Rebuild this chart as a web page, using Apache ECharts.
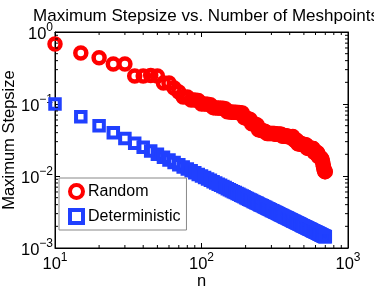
<!DOCTYPE html>
<html>
<head>
<meta charset="utf-8">
<script src="https://cdn.jsdelivr.net/npm/echarts@6/dist/echarts.min.js"></script>
<style>
html,body{margin:0;padding:0;background:#fff;}
#c{width:374px;height:291px;}
</style>
</head>
<body>
<div id="c"></div>
<script>
// Number of meshpoints
const meshpoints = [];
for (let n = 10; n <= 700; n += 5) meshpoints.push(n);

// Random mesh: maximum stepsize
const randomStep = [
  0.68, 0.51, 0.44, 0.36, 0.36,            // 10-30
  0.245, 0.245, 0.248, 0.245,               // 35-50
  0.196, 0.196, 0.167, 0.147, 0.125, 0.125, // 55-80
  0.114, 0.114, 0.112,                      // 85-95
  0.100, 0.100, 0.099, 0.098,               // 100-115
  0.089, 0.088, 0.088, 0.087, 0.087, 0.086, // 120-145
  0.078, 0.078, 0.077, 0.077, 0.077, 0.076, 0.076, 0.075, 0.075, // 150-190
  0.065, 0.064, 0.063, 0.062, 0.061,        // 195-215
  0.053, 0.053, 0.052, 0.052, 0.051,        // 220-240
  0.044, 0.044, 0.043, 0.043, 0.042, 0.042, 0.041, // 245-275
  0.039, 0.039, 0.039, 0.039, 0.039, 0.039, 0.039, 0.039, 0.038, 0.038, 0.038, 0.038, 0.038, 0.038, 0.038, // 280-350
  0.036, 0.036, 0.036, 0.036, 0.036, 0.036, 0.036, 0.035, 0.035, 0.035, 0.035, 0.035, 0.035, // 355-415
  0.0355, 0.032, 0.032, 0.031, 0.031, 0.031, 0.031, // 420-450
  0.028, 0.028, 0.028, 0.028, 0.028, 0.028, 0.0275, 0.0275, 0.0275, 0.027, 0.027, 0.027, 0.027, 0.027, // 455-520
  0.0245, 0.0245, 0.0245, 0.0245, 0.024, 0.024, 0.024, 0.024, 0.024, 0.024, 0.024, 0.024, // 525-580
  0.0215, 0.0215, 0.021, 0.021, 0.021, 0.021, 0.021, 0.021, // 585-620
  0.0188, 0.0188, 0.0185, 0.0185, 0.018, 0.018, 0.0175, 0.0175, // 625-660
  0.0165, 0.016, 0.0145, 0.0135, 0.0125, 0.012, 0.0115, 0.0115 // 665-700
];

// Deterministic (uniform) mesh: maximum stepsize
const deterministicStep = [
  0.1, 0.0667, 0.05, 0.04, 0.0333, 0.0286, 0.025, 0.0222, 0.02, 0.0182,
  0.0167, 0.0154, 0.0143, 0.0133, 0.0125, 0.0118, 0.0111, 0.0105, 0.01, 0.00952,
  0.00909, 0.0087, 0.00833, 0.008, 0.00769, 0.00741, 0.00714, 0.0069, 0.00667, 0.00645,
  0.00625, 0.00606, 0.00588, 0.00571, 0.00556, 0.00541, 0.00526, 0.00513, 0.005, 0.00488,
  0.00476, 0.00465, 0.00455, 0.00444, 0.00435, 0.00426, 0.00417, 0.00408, 0.004, 0.00392,
  0.00385, 0.00377, 0.0037, 0.00364, 0.00357, 0.00351, 0.00345, 0.00339, 0.00333, 0.00328,
  0.00323, 0.00317, 0.00313, 0.00308, 0.00303, 0.00299, 0.00294, 0.0029, 0.00286, 0.00282,
  0.00278, 0.00274, 0.0027, 0.00267, 0.00263, 0.0026, 0.00256, 0.00253, 0.0025, 0.00247,
  0.00244, 0.00241, 0.00238, 0.00235, 0.00233, 0.0023, 0.00227, 0.00225, 0.00222, 0.0022,
  0.00217, 0.00215, 0.00213, 0.00211, 0.00208, 0.00206, 0.00204, 0.00202, 0.002, 0.00198,
  0.00196, 0.00194, 0.00192, 0.0019, 0.00189, 0.00187, 0.00185, 0.00183, 0.00182, 0.0018,
  0.00179, 0.00177, 0.00175, 0.00174, 0.00172, 0.00171, 0.00169, 0.00168, 0.00167, 0.00165,
  0.00164, 0.00163, 0.00161, 0.0016, 0.00159, 0.00157, 0.00156, 0.00155, 0.00154, 0.00152,
  0.00151, 0.0015, 0.00149, 0.00148, 0.00147, 0.00146, 0.00145, 0.00144, 0.00143
];

const xTicks = [10, 100, 1000];
const yTicks = [0.001, 0.01, 0.1, 1];
const seriesNames = ['Random', 'Deterministic'];

const FONT = 'Liberation Sans';
const FS = 16.5;
function expLabel(v) {
  const e = Math.round(Math.log10(v));
  return '{b|10}{s|' + (e < 0 ? '\u2212' + (-e) : e) + '}';
}
const rich = {
  b: {fontSize: FS, fontFamily: FONT, color: '#000', verticalAlign: 'bottom'},
  s: {fontSize: 12, fontFamily: FONT, color: '#000', verticalAlign: 'bottom', padding: [0, 0, 9, 0]}
};

const chart = echarts.init(document.getElementById('c'), null, {renderer: 'canvas'});
const grid = {left: 55, right: 26, top: 32, bottom: 43, show: true, borderColor: '#000', borderWidth: 1,
  backgroundColor: '#fff', containLabel: false, outerBoundsMode: 'none'};

const option = {
  animation: false,
  backgroundColor: '#fff',
  title: {
    text: 'Maximum Stepsize vs. Number of Meshpoints',
    left: 201, top: 3, textAlign: 'center',
    textStyle: {fontSize: 17, fontWeight: 'normal', fontFamily: FONT, color: '#000'}
  },
  grid: grid,
  legend: {
    orient: 'vertical',
    left: 59, top: 178,
    data: [
      {name: seriesNames[0], itemStyle: {color: '#fff', borderColor: '#ff0000', borderWidth: 4}},
      {name: seriesNames[1], itemStyle: {color: '#fff', borderColor: '#2040ff', borderWidth: 4}}
    ],
    backgroundColor: '#fff',
    borderColor: '#888', borderWidth: 1,
    padding: [5, 6, 5, 9],
    itemGap: 8,
    itemWidth: 13, itemHeight: 13,
    textStyle: {fontSize: 16, fontFamily: FONT, color: '#000'}
  },
  xAxis: [{
    type: 'log', logBase: 10, min: 10, max: 1000,
    position: 'bottom',
    name: 'n', nameLocation: 'middle', nameGap: 25, nameMoveOverlap: false,
    nameTextStyle: {fontSize: FS, fontFamily: FONT, color: '#000'},
    axisLine: {show: true, lineStyle: {color: '#000'}},
    axisTick: {show: true, inside: true, length: 5, lineStyle: {color: '#000'}},
    axisLabel: {formatter: expLabel, rich: rich, margin: 4},
    splitLine: {show: false}
  }, {
    type: 'log', logBase: 10, min: 10, max: 1000,
    position: 'top',
    axisLine: {show: true, lineStyle: {color: '#000'}},
    axisTick: {show: true, inside: true, length: 5, lineStyle: {color: '#000'}},
    axisLabel: {show: false},
    splitLine: {show: false}
  }],
  yAxis: [{
    type: 'log', logBase: 10, min: 0.001, max: 1,
    position: 'left',
    name: 'Maximum Stepsize', nameLocation: 'middle', nameGap: 37, nameMoveOverlap: false,
    nameTextStyle: {fontSize: FS, fontFamily: FONT, color: '#000'},
    axisLine: {show: true, lineStyle: {color: '#000'}},
    axisTick: {show: true, inside: true, length: 5, lineStyle: {color: '#000'}},
    axisLabel: {formatter: expLabel, rich: rich, margin: 2},
    splitLine: {show: false}
  }, {
    type: 'log', logBase: 10, min: 0.001, max: 1,
    position: 'right',
    axisLine: {show: true, lineStyle: {color: '#000'}},
    axisTick: {show: true, inside: true, length: 5, lineStyle: {color: '#000'}},
    axisLabel: {show: false},
    splitLine: {show: false}
  }],
  series: [{
    name: seriesNames[0],
    type: 'scatter',
    symbol: 'circle',
    symbolSize: 11,
    itemStyle: {color: 'rgba(255,255,255,0)', borderColor: '#ff0000', borderWidth: 4.5, opacity: 1},
    data: meshpoints.map((n, i) => [n, randomStep[i]]),
    z: 3
  }, {
    name: seriesNames[1],
    type: 'scatter',
    symbol: 'rect',
    symbolSize: 9.5,
    itemStyle: {color: 'rgba(255,255,255,0)', borderColor: '#2040ff', borderWidth: 4, opacity: 1},
    data: meshpoints.map((n, i) => [n, deterministicStep[i]]),
    z: 2
  }]
};
chart.setOption(option);

// minor ticks (2..9 per decade) on all four sides, placed through the axes
function minorTicks() {
  const els = [];
  const L = 3;
  const top = grid.top, bottom = 291 - grid.bottom, left = grid.left, right = 374 - grid.right;
  for (let d = 10; d < 1000; d *= 10) {
    for (let k = 2; k <= 9; k++) {
      const x = chart.convertToPixel({xAxisIndex: 0}, d * k);
      els.push({type: 'line', shape: {x1: x, y1: bottom, x2: x, y2: bottom - L}, style: {stroke: '#000', lineWidth: 1}, z: 10});
      els.push({type: 'line', shape: {x1: x, y1: top, x2: x, y2: top + L}, style: {stroke: '#000', lineWidth: 1}, z: 10});
    }
  }
  for (let d = 0.001; d < 0.5; d *= 10) {
    for (let k = 2; k <= 9; k++) {
      const y = chart.convertToPixel({yAxisIndex: 0}, d * k);
      els.push({type: 'line', shape: {x1: left, y1: y, x2: left + L, y2: y}, style: {stroke: '#000', lineWidth: 1}, z: 10});
      els.push({type: 'line', shape: {x1: right, y1: y, x2: right - L, y2: y}, style: {stroke: '#000', lineWidth: 1}, z: 10});
    }
  }
  chart.setOption({graphic: els});
}
minorTicks();
</script>
</body>
</html>
